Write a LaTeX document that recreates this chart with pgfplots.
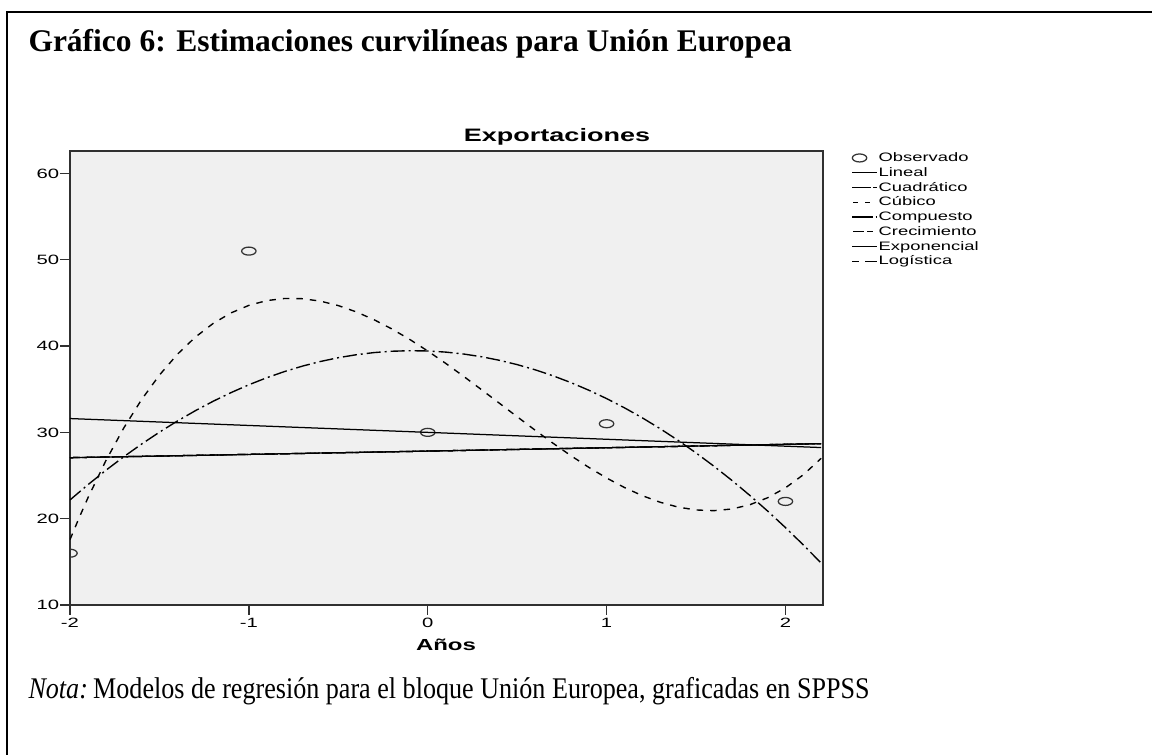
\documentclass[border=0pt]{standalone}
\usepackage{fontspec}
\setmainfont{Liberation Serif}
\newfontfamily\chartfont[FakeStretch=1.5]{Liberation Sans}
\newfontfamily\notafont[FakeStretch=0.87]{Liberation Serif}
\usepackage{pgfplots}
\pgfplotsset{compat=1.18}
\definecolor{plotbg}{HTML}{F0F0F0}
\definecolor{axgray}{HTML}{303030}
\definecolor{markgray}{HTML}{333333}
\pgfplotsset{
 legObs/.style={legend image code/.code={\draw[##1] plot coordinates {(3pt,0pt)};}},
 legSolid/.style={legend image code/.code={\draw[##1] (0pt,0pt) -- (10pt,0pt);}},
 legQuad/.style={legend image code/.code={\draw[##1,solid] (0pt,0pt) -- (7.4pt,0pt); \draw[##1,solid] (8.4pt,0pt) -- (9.8pt,0pt);}},
 legCub/.style={legend image code/.code={\draw[##1,solid] (0.4pt,0pt) -- (2.4pt,0pt); \draw[##1,solid] (5.2pt,0pt) -- (7.2pt,0pt);}},
 legComp/.style={legend image code/.code={\draw[##1,solid] (0pt,0pt) -- (8.4pt,0pt); \draw[##1,solid] (9.4pt,0pt) -- (9.8pt,0pt);}},
 legCrec/.style={legend image code/.code={\draw[##1,solid] (0.4pt,0pt) -- (4.6pt,0pt); \draw[##1,solid] (6pt,0pt) -- (8.4pt,0pt);}},
 legLog/.style={legend image code/.code={\draw[##1,solid] (0pt,0pt) -- (2.8pt,0pt); \draw[##1,solid] (5.2pt,0pt) -- (10pt,0pt);}},
}

\begin{document}
\begin{tikzpicture}
\path[use as bounding box] (0,0) rectangle (460.8pt,302pt);
\draw[line width=0.8pt] (2.8pt,0pt) -- (2.8pt,297.2pt) -- (460.8pt,297.2pt);
\node[anchor=base west, inner sep=0, font=\bfseries\fontsize{12.6}{14}\selectfont] at (11.2pt,281.2pt) {Gráfico 6: Estimaciones curvilíneas para Unión Europea};
\node[anchor=base west, inner sep=0, font=\notafont\fontsize{12}{14}\selectfont] at (11.2pt,22.4pt) {\textit{Nota:}\kern-0.5pt\ Modelos de regresión para el bloque Unión Europea, graficadas en SPPSS};
\begin{axis}[
 at={(28pt,60pt)}, anchor=south west,
 width=301.2pt, height=181.6pt, scale only axis,
 xmin=-2, xmax=2.21, ymin=10, ymax=62.6,
 clip mode=individual, clip marker paths=true,
 axis background/.style={fill=plotbg},
 axis line style={axgray, line width=0.6pt},
 xtick={-2,-1,0,1,2}, xticklabels={-2,-1,0,1,2},
 ytick={10,20,30,40,50,60}, yticklabels={10,20,30,40,50,60},
 tick align=outside, tick pos=left, major tick length=4pt,
 tick style={axgray, line width=0.6pt},
 ticklabel style={font=\chartfont\fontsize{5.4}{6}\selectfont, text=black},
 xticklabel style={yshift=2.4pt},
 yticklabel style={xshift=3.2pt},
 legend cell align=left,
 legend style={font=\chartfont\fontsize{4.9}{5}\selectfont, draw=none, fill=none,
   at={(1.037,1.002)}, anchor=north west, inner sep=0pt, row sep=0pt,
   nodes={inner sep=0.4pt, text height=4pt, text depth=1.1pt}},
]
\addplot[only marks, mark=o, mark size=1.6pt, mark options={xscale=1.8, markgray, line width=0.5pt}, legObs]
 coordinates {(-2,16)(-1,51)(0,30)(1,31)(2,22)};
\addlegendentry{Observado}
\addplot[black, line width=0.5pt, legSolid]
 coordinates {(-2,31.6)(2.2,28.24)};
\addlegendentry{Lineal}
\addplot[black, line width=0.55pt, dash pattern=on 5.6pt off 1.6pt on 0.8pt off 1.6pt, legQuad]
 coordinates {(-2.0,22.171)(-1.9,23.930)(-1.8,25.594)(-1.7,27.164)(-1.6,28.640)(-1.5,30.021)(-1.4,31.309)(-1.3,32.501)(-1.2,33.600)(-1.1,34.604)(-1.0,35.514)(-0.9,36.330)(-0.8,37.051)(-0.7,37.679)(-0.6,38.211)(-0.5,38.650)(-0.4,38.994)(-0.3,39.244)(-0.2,39.400)(-0.1,39.461)(0.0,39.429)(0.1,39.301)(0.2,39.080)(0.3,38.764)(0.4,38.354)(0.5,37.850)(0.6,37.251)(0.7,36.559)(0.8,35.771)(0.9,34.890)(1.0,33.914)(1.1,32.844)(1.2,31.680)(1.3,30.421)(1.4,29.069)(1.5,27.621)(1.6,26.080)(1.7,24.444)(1.8,22.714)(1.9,20.890)(2.0,18.971)(2.1,16.959)(2.2,14.851)};
\addlegendentry{Cuadrático}
\addplot[black, line width=0.55pt, dash pattern=on 2.6pt off 2.8pt, legCub]
 coordinates {(-2.0,17.571)(-1.95,20.054)(-1.9,22.401)(-1.8,26.698)(-1.7,30.488)(-1.6,33.792)(-1.5,36.634)(-1.4,39.037)(-1.3,41.023)(-1.2,42.616)(-1.1,43.839)(-1.0,44.714)(-0.9,45.266)(-0.8,45.515)(-0.7,45.487)(-0.6,45.203)(-0.5,44.688)(-0.4,43.962)(-0.3,43.051)(-0.2,41.976)(-0.1,40.761)(0.0,39.429)(0.1,38.002)(0.2,36.504)(0.3,34.958)(0.4,33.386)(0.5,31.813)(0.6,30.259)(0.7,28.750)(0.8,27.307)(0.9,25.955)(1.0,24.714)(1.1,23.610)(1.2,22.664)(1.3,21.900)(1.4,21.341)(1.5,21.009)(1.6,20.928)(1.7,21.121)(1.8,21.610)(1.9,22.420)(2.0,23.571)(2.1,25.089)(2.2,26.995)};
\addlegendentry{Cúbico}
\addplot[black, line width=0.5pt, dash pattern=on 4pt off 0.8pt on 0.4pt off 0.8pt, legComp]
 coordinates {(-2,27.067)(-1.5,27.255)(-1,27.446)(-0.5,27.637)(0,27.830)(0.5,28.024)(1,28.220)(1.5,28.417)(2,28.615)(2.2,28.695)};
\addlegendentry{Compuesto}
\addplot[black, line width=0.5pt, dash pattern=on 4pt off 1.2pt on 2pt off 1.2pt, legCrec]
 coordinates {(-2,27.067)(-1.5,27.255)(-1,27.446)(-0.5,27.637)(0,27.830)(0.5,28.024)(1,28.220)(1.5,28.417)(2,28.615)(2.2,28.695)};
\addlegendentry{Crecimiento}
\addplot[black, line width=0.5pt, legSolid]
 coordinates {(-2,27.067)(-1.5,27.255)(-1,27.446)(-0.5,27.637)(0,27.830)(0.5,28.024)(1,28.220)(1.5,28.417)(2,28.615)(2.2,28.695)};
\addlegendentry{Exponencial}
\addplot[black, line width=0.5pt, dash pattern=on 3.2pt off 2.4pt, legLog]
 coordinates {(-2,27.067)(-1.5,27.255)(-1,27.446)(-0.5,27.637)(0,27.830)(0.5,28.024)(1,28.220)(1.5,28.417)(2,28.615)(2.2,28.695)};
\addlegendentry{Logística}
\end{axis}
\node[anchor=base, inner sep=0, font=\chartfont\bfseries\fontsize{7.2}{8}\selectfont] at (222.8pt,245.3pt) {Exportaciones};
\node[anchor=base, inner sep=0, font=\chartfont\bfseries\fontsize{6.4}{7}\selectfont] at (178.4pt,41.6pt) {Años};
\end{tikzpicture}
\end{document}
